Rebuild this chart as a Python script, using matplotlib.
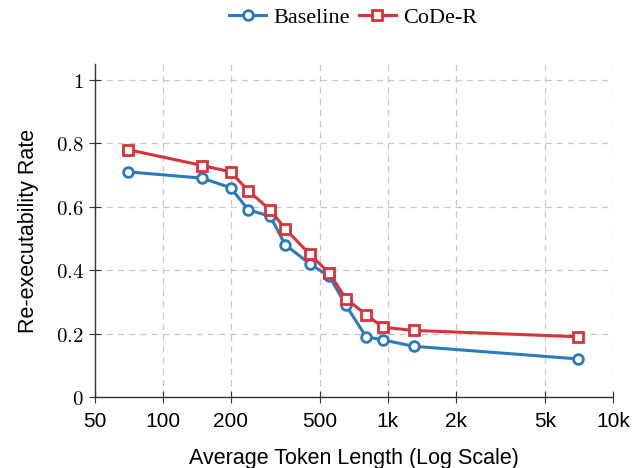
import matplotlib.pyplot as plt
from matplotlib.ticker import FixedLocator, NullLocator

# datos
tokens = [70, 150, 200, 240, 300, 350, 450, 550, 650, 800, 950, 1300, 7000]
baseline = [0.71, 0.69, 0.66, 0.59, 0.57, 0.48, 0.42, 0.38, 0.29, 0.19, 0.18, 0.16, 0.12]
coder = [0.78, 0.73, 0.71, 0.65, 0.59, 0.53, 0.45, 0.39, 0.31, 0.26, 0.22, 0.21, 0.19]

x_ticks = [50, 100, 200, 500, 1000, 2000, 5000, 10000]
x_labels = ['50', '100', '200', '500', '1k', '2k', '5k', '10k']
y_ticks = [0, 0.2, 0.4, 0.6, 0.8, 1]
y_labels = ['$0$', '$0.2$', '$0.4$', '$0.6$', '$0.8$', '$1$']

plt.rcParams['mathtext.fontset'] = 'cm'

blue = '#2b7bba'
red = '#d7333a'

fig = plt.figure(figsize=(6.44, 4.68), dpi=100)
ax = fig.add_axes([0.1475, 0.1517, 0.8045, 0.7115])

ax.plot(tokens, baseline, '-o', color=blue, lw=2.2, markersize=7,
        markerfacecolor='white', markeredgewidth=2, label='Baseline', zorder=3)
ax.plot(tokens, coder, '-s', color=red, lw=2.2, markersize=7,
        markerfacecolor='white', markeredgewidth=2, label='CoDe-R', zorder=4)

ax.set_xscale('log')
ax.set_xlim(50, 10000)
ax.set_ylim(0, 1.05)
ax.xaxis.set_major_locator(FixedLocator(x_ticks))
ax.xaxis.set_minor_locator(NullLocator())
ax.set_xticklabels(x_labels, fontsize=15, family='Liberation Sans')
ax.set_yticks(y_ticks)
ax.set_yticklabels(y_labels, fontsize=15)

ax.tick_params(axis='both', direction='inout', length=8, width=0.8, color='#333333')
ax.tick_params(axis='x', pad=7)
ax.tick_params(axis='y', pad=4)

ax.grid(True, color='#c8c8c8', linestyle=(0, (5, 4)), lw=0.9)
ax.set_axisbelow(True)
for s in ['top', 'right']:
    ax.spines[s].set_visible(False)
for s in ['left', 'bottom']:
    ax.spines[s].set_color('#333333')
    ax.spines[s].set_linewidth(1.0)

ax.set_xlabel('Average Token Length (Log Scale)', fontsize=15.5, family='Liberation Sans', labelpad=12)
ax.set_ylabel('Re-executability Rate', fontsize=15.5, family='Liberation Sans', labelpad=12)

fig.legend(loc='center', bbox_to_anchor=(0.548, 0.963), ncol=2, frameon=False,
           prop={'family': 'Liberation Serif', 'size': 16},
           handlelength=1.7, handletextpad=0.3, columnspacing=0.4)

fig.savefig('out.png', dpi=100)
